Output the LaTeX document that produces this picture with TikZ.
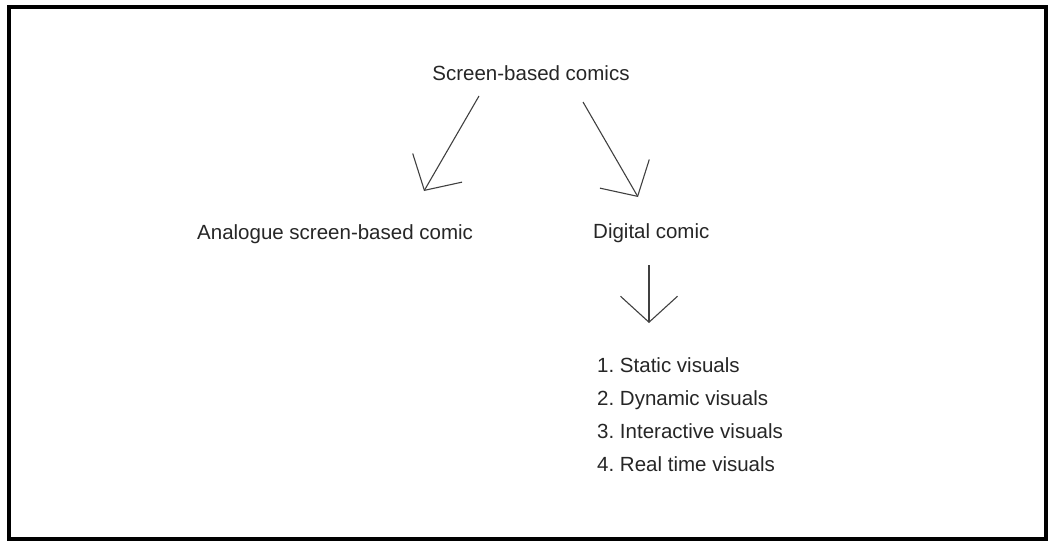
\documentclass[tikz,border=0pt]{standalone}
\usepackage{fontspec}
\setmainfont{Liberation Sans}
\frenchspacing
\usetikzlibrary{positioning, arrows.meta}
\tikzset{label/.style={
    inner sep=0pt,
    text=black!85,
    font=\fontsize{20.5}{33}\selectfont
}}
\tikzset{barb/.style={
    -{Straight Barb[length=26pt,width=57pt]},
    line width=1.1pt,
    black!75
}}

\begin{document}
\begin{tikzpicture}[x=1pt, y=-1pt]
    \useasboundingbox (0,0) rectangle (1050,543);
    \draw [line width=3.5pt] (9,7) rectangle (1046,539);
    % Labels
    \node (comics)  [label, anchor=base]      at (531,81)  {Screen-based comics};
    \node (analog)  [label, anchor=base west] at (197,239) {Analogue screen-based comic};
    \node (digital) [label, anchor=base west] at (593,238) {Digital comic};
    \node (visuals) [label, anchor=north west, align=left] at (597,357)
        {1. Static visuals\\ 2. Dynamic visuals\\ 3. Interactive visuals\\ 4. Real time visuals};
    % Arrow ends
    \coordinate (c1) at (479,96);  \coordinate (a1) at (424,191);
    \coordinate (c2) at (583,102); \coordinate (d1) at (638,197);
    \coordinate (d2) at (649,265); \coordinate (v1) at (649,323);
    \draw [barb] (c1) -- (a1);
    \draw [barb] (c2) -- (d1);
    \draw [barb] (d2) -- (v1);
\end{tikzpicture}
\end{document}
